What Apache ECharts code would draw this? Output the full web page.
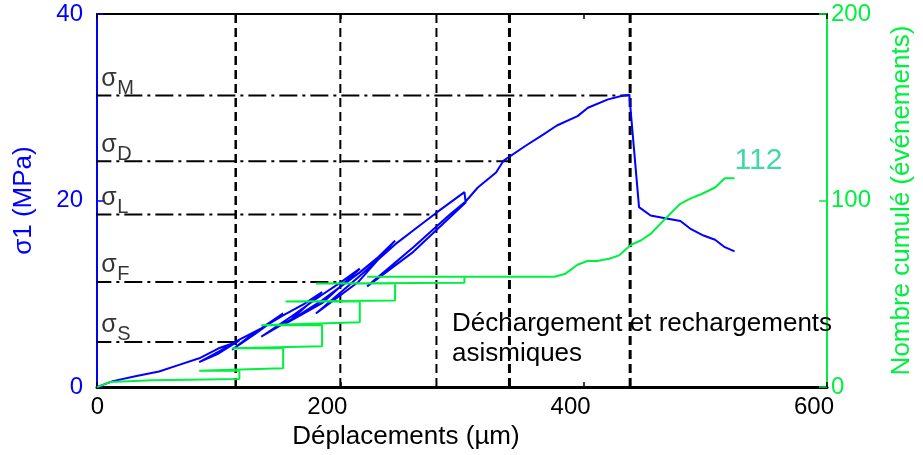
<!DOCTYPE html>
<html>
<head>
<meta charset="utf-8">
<script src="https://cdn.jsdelivr.net/npm/echarts@6/dist/echarts.min.js"></script>
<style>
html,body{margin:0;padding:0;background:#fff;overflow:hidden;width:923px;height:455px;}
#chart{width:923px;height:455px;overflow:hidden;}
</style>
</head>
<body>
<div id="chart"></div>
<script>
// ---- data ----
var xTicks = [0, 200, 400, 600];
var stressTicks = [0, 20, 40];
var countTicks = [0, 100, 200];

// stress curve (µm, MPa)
var dispBlue = [0, 13, 32.5, 51, 67.5, 84, 100, 112, 117,
  100, 84,
  100, 117, 135, 153,
  130, 111,
  130, 153, 170, 185,
  160, 135,
  160, 185, 200, 216,
  185, 155,
  185, 216, 230, 245,
  215, 180,
  215, 245, 262, 279, 302,
  303, 260, 222,
  260, 290, 303, 313, 328, 334, 352, 367, 378, 395, 403.5, 420, 431, 437.5,
  445.5, 455, 467, 479.5, 487.5, 498.5, 508, 516, 524];
var stressBlue = [0, 0.64, 1.2, 1.67, 2.38, 3.09, 4.16, 4.7, 5.0,
  3.6, 2.67,
  3.8, 5.1, 6.3, 7.9,
  5.7, 4.0,
  5.9, 7.7, 8.9, 10.2,
  7.3, 5.4,
  7.6, 9.9, 11.2, 12.7,
  9.0, 6.8,
  9.3, 12.3, 13.8, 15.7,
  11.3, 7.9,
  11.8, 15.3, 17.0, 18.7, 20.9,
  19.8, 14.5, 10.8,
  15.0, 18.5, 19.9, 21.4, 23.0, 24.25, 25.85, 27.1, 28.05, 29.05, 29.95, 30.85, 31.2, 31.35,
  19.3, 18.4, 18.1, 17.8, 17.0, 16.25, 15.8, 15.0, 14.55];

// cumulative event count (µm, events)
var dispGreen = [0, 10.6, 45.5, 117, 117, 84, 153, 153, 111, 185, 185, 135, 216, 216, 155,
  245, 245, 180, 302, 302, 222, 376, 385, 395, 403, 411, 421, 429, 439, 447, 455, 463,
  471, 479, 488, 497, 508, 516, 524];
var countGreen = [0, 2.7, 3.7, 4.3, 8.7, 8.7, 10.1, 20.8, 20.8, 21.9, 33.1, 33.1, 34.7, 45.9, 45.9,
  46.4, 55.5, 55.5, 56, 59.2, 59.2, 59.2, 60.8, 65.6, 67.6, 67.6, 68.8, 70.6, 76.3, 78.6, 82.1, 87.5,
  92.8, 98.1, 101.2, 103.5, 107, 112, 112];
var finalCount = [112];

// characteristic stress levels
var sigmaNames = ['M', 'D', 'L', 'F', 'S'];
var sigmaValues = [31.25, 24.2, 18.5, 11.27, 4.84];
var sigmaEndDisp = [438.2, 339, 279, 200, 114];
// vertical dashed markers (µm)
var markerDisp = [114, 200, 279, 339, 438.2];
var markerWidths = [2.5, 2, 2, 3, 3];

var annotation = 'Déchargement et rechargements\nasismiques';

// ---- chart ----
var FONT = 'Liberation Sans';
var BLUE = '#0000FF';
var GREEN = '#00F040';
var chart = echarts.init(document.getElementById('chart'), null, { width: 923, height: 455 });

var series = [];
markerDisp.forEach(function (x, i) {
  series.push({
    type: 'line', xAxisIndex: 0, yAxisIndex: 0, silent: true, z: 1,
    showSymbol: false, symbol: 'none',
    data: [[x, 0], [x, 40]],
    lineStyle: { color: '#000', width: markerWidths[i], type: [9, 5] }
  });
});
sigmaValues.forEach(function (v, i) {
  series.push({
    type: 'line', xAxisIndex: 0, yAxisIndex: 0, silent: true, z: 1, clip: false,
    showSymbol: false, symbol: 'none',
    data: [[-3, v], [sigmaEndDisp[i], v]],
    lineStyle: { color: '#000', width: 2, type: [18, 5, 3, 5] }
  });
});
// sigma glyphs
series.push({
  type: 'scatter', xAxisIndex: 0, yAxisIndex: 0, silent: true, symbolSize: 0, z: 5,
  data: sigmaValues.map(function (v) { return [3.5, v]; }),
  label: {
    show: true, position: [0, 0], align: 'left', verticalAlign: 'bottom', offset: [0, -4],
    formatter: 'σ', fontFamily: FONT, fontSize: 25, lineHeight: 25, color: '#000'
  }
});
// subscripts
series.push({
  type: 'scatter', xAxisIndex: 0, yAxisIndex: 0, silent: true, symbolSize: 0, z: 5,
  data: sigmaValues.map(function (v) { return [3.5, v]; }),
  label: {
    show: true, position: [0, 0], align: 'left', verticalAlign: 'bottom', offset: [16, 3],
    formatter: function (p) { return sigmaNames[p.dataIndex]; },
    fontFamily: FONT, fontSize: 20, lineHeight: 20, color: '#000'
  }
});
series.push({
  type: 'line', xAxisIndex: 0, yAxisIndex: 0, silent: true, z: 3,
  showSymbol: false, symbol: 'none',
  data: dispBlue.map(function (x, i) { return [x, stressBlue[i]]; }),
  lineStyle: { color: BLUE, width: 2 }
});
series.push({
  type: 'line', xAxisIndex: 0, yAxisIndex: 1, silent: true, z: 4,
  showSymbol: false, symbol: 'none',
  data: dispGreen.map(function (x, i) { return [x, countGreen[i]]; }),
  lineStyle: { color: GREEN, width: 2 }
});
series.push({
  type: 'scatter', xAxisIndex: 0, yAxisIndex: 1, silent: true, symbolSize: 0, z: 5,
  data: [[dispGreen[dispGreen.length - 1], finalCount[0]]],
  label: {
    show: true, position: 'right', distance: 0, offset: [0, -17],
    formatter: function () { return String(finalCount[0]); },
    fontFamily: FONT, fontSize: 30, color: '#14CC96'
  }
});

var option = {
  animation: false,
  backgroundColor: '#fff',
  grid: { left: 97, right: 88, top: 14, bottom: 66, containLabel: false },
  xAxis: [{
    type: 'value', position: 'bottom', min: 0, max: 600, interval: 200,
    name: 'Déplacements (µm)', nameLocation: 'middle', nameGap: 32,
    nameTextStyle: { fontFamily: FONT, fontSize: 26, color: '#000', padding: [0, 112, 0, 0] },
    axisLine: { onZero: false, lineStyle: { color: '#000', width: 3 } },
    axisTick: { inside: true, length: 5, lineStyle: { color: '#000', width: 1.5 } },
    axisLabel: { fontFamily: FONT, fontSize: 24, color: '#000', margin: 8, align: 'right', padding: [0, -7, 0, 0],
      formatter: function (v) { return xTicks.indexOf(v) >= 0 ? String(v) : ''; } },
    splitLine: { show: false }
  }, {
    type: 'value', position: 'top', min: 0, max: 600, interval: 200,
    axisLine: { onZero: false, lineStyle: { color: '#000', width: 2 } },
    axisTick: { inside: true, length: 5, lineStyle: { color: '#000', width: 1.5 } },
    axisLabel: { show: false },
    splitLine: { show: false }
  }],
  yAxis: [{
    type: 'value', position: 'left', min: 0, max: 40, interval: 20,
    name: 'σ1 (MPa)', nameLocation: 'middle', nameGap: 60, nameRotate: 90,
    nameTextStyle: { fontFamily: FONT, fontSize: 26, color: BLUE },
    axisLine: { show: true, onZero: false, lineStyle: { color: BLUE, width: 2 } },
    axisTick: { show: true, inside: true, length: 6, lineStyle: { color: BLUE, width: 1.5 } },
    axisLabel: { fontFamily: FONT, fontSize: 24, color: BLUE, margin: 14,
      formatter: function (v) { return stressTicks.indexOf(v) >= 0 ? String(v) : ''; } },
    splitLine: { show: false }
  }, {
    type: 'value', position: 'right', min: 0, max: 200, interval: 100,
    name: 'Nombre cumulé (événements)', nameLocation: 'middle', nameGap: 62, nameRotate: 90,
    nameTextStyle: { fontFamily: FONT, fontSize: 26, color: GREEN },
    axisLine: { show: true, onZero: false, lineStyle: { color: GREEN, width: 2 } },
    axisTick: { show: true, inside: true, length: 8, lineStyle: { color: GREEN, width: 1.5 } },
    axisLabel: { fontFamily: FONT, fontSize: 24, color: GREEN, margin: 4,
      formatter: function (v) { return countTicks.indexOf(v) >= 0 ? String(v) : ''; } },
    splitLine: { show: false }
  }],
  graphic: [{
    type: 'text', left: 452, top: 309, z: 10, silent: true,
    style: { text: annotation, font: '26px "Liberation Sans"', fill: '#000', lineHeight: 30 }
  }],
  series: series
};
chart.setOption(option);
</script>
</body>
</html>
